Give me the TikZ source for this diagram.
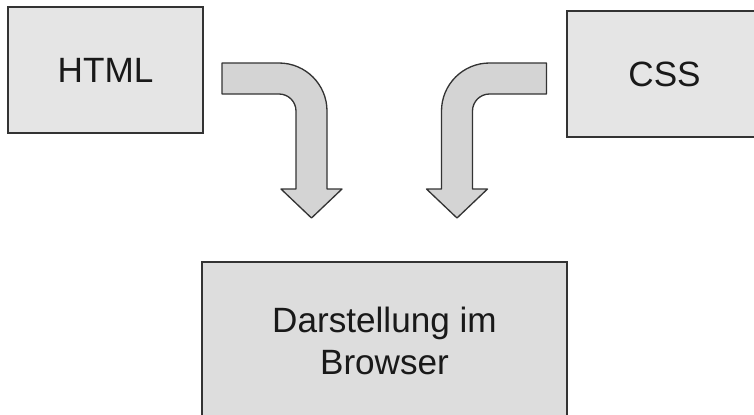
\documentclass[tikz,border=0pt]{standalone}
\usepackage{fontspec}
\setmainfont{Liberation Sans}
\usetikzlibrary{positioning,calc}

\begin{document}
\begin{tikzpicture}[
    x=0.02cm, y=0.02cm,
    box/.style={rectangle, draw=black!80, line width=0.75pt, fill=gray!20, minimum width=3.9cm, minimum height=2.52cm, align=center, text=black!90, font=\fontsize{20}{24}\selectfont, inner sep=0pt},
    blockarrow/.style={draw=black!80, line width=0.75pt, fill=gray!34, line join=round}
]
    \useasboundingbox (0,0) rectangle (754,414);

    % Sources
    \node[box] (html) at (105.5,344) {HTML};
    \node[box] (css) at (664.5,340) {CSS};

    % Result
    \node[box, fill=gray!27, minimum width=7.3cm, minimum height=3.16cm] (browser) at (384.5,73) {Darstellung im\\Browser};

    % Bent arrows
    \draw[blockarrow] (222,351) -- (279,351) arc(90:0:48) -- (327,225) -- (342,225) -- (311.5,196)
        -- (281,225) -- (296,225) -- (296,303) arc(0:90:17) -- (222,320) -- cycle;
    \draw[blockarrow] (546.5,351) -- (489.5,351) arc(90:180:48) -- (441.5,225) -- (426.5,225) -- (457,196)
        -- (487.5,225) -- (472.5,225) -- (472.5,303) arc(180:90:17) -- (546.5,320) -- cycle;
\end{tikzpicture}
\end{document}
